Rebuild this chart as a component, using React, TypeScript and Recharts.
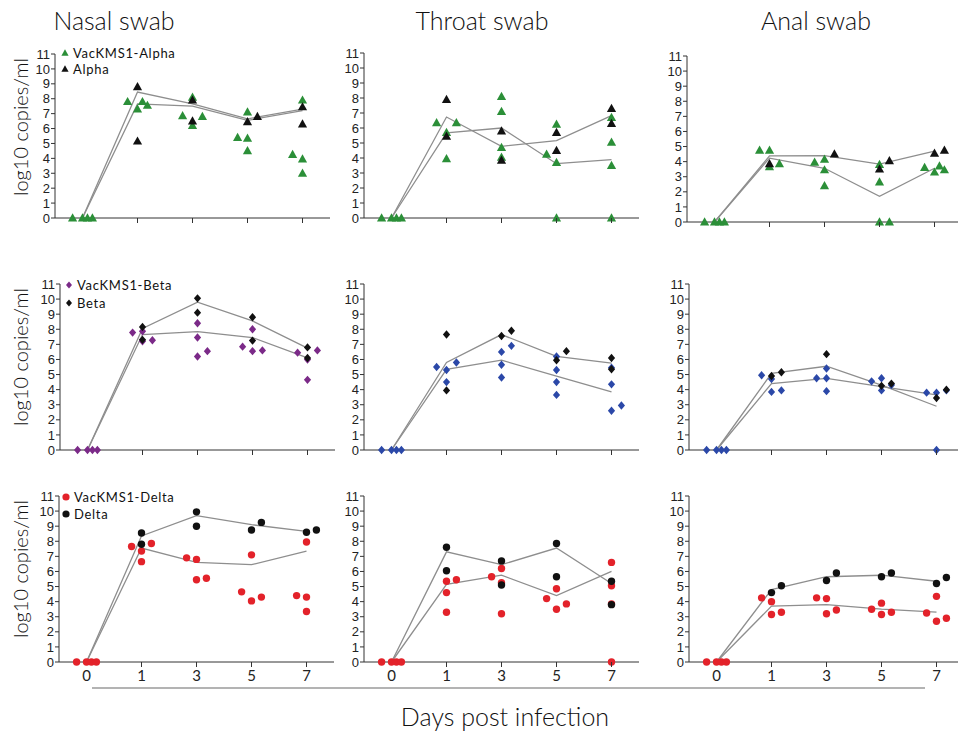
import React from 'react';
import { ScatterChart, Scatter, XAxis, YAxis } from 'recharts';

type Pt = [number, number]; // [log10 copies/ml, jitter slot]

const DAYS = [0, 1, 3, 5, 7];
const Y_TICKS = [0, 1, 2, 3, 4, 5, 6, 7, 8, 9, 10, 11];
const SWABS = ['Nasal swab', 'Throat swab', 'Anal swab'];
const VARIANTS = ['Alpha', 'Beta', 'Delta'];
const Y_LABEL = 'log10 copies/ml';
const X_LABEL = 'Days post infection';

const DAY0: Pt[] = [[0, -1], [0, 0], [0, 0.5], [0, 1]];

// ---------- Alpha ----------
const NASAL_ALPHA_VAC: Pt[][] = [DAY0,
  [[7.8, -1], [7.3, 0], [7.8, 0.5], [7.55, 1]],
  [[6.85, -1], [8.1, 0], [6.2, 0], [6.8, 1]],
  [[5.4, -1], [7.1, 0], [5.35, 0], [4.5, 0]],
  [[4.25, -1], [7.9, 0], [3.95, 0], [3.0, 0]]];
const NASAL_ALPHA_CTRL: Pt[][] = [[],
  [[8.8, 0], [5.15, 0]],
  [[7.9, 0], [6.5, 0]],
  [[6.45, 0], [6.8, 1]],
  [[7.45, 0], [6.3, 0]]];
const NASAL_ALPHA_MEAN_CTRL = [0, 8.45, 7.65, 6.65, 7.3];
const NASAL_ALPHA_MEAN_VAC = [0, 7.65, 7.5, 6.55, 7.2];

const THROAT_ALPHA_VAC: Pt[][] = [DAY0,
  [[6.35, -1], [5.7, 0], [3.95, 0], [6.35, 1]],
  [[8.1, 0], [7.1, 0], [4.7, 0], [4.05, 0]],
  [[4.25, -1], [6.25, 0], [3.7, 0], [0, 0]],
  [[6.7, 0], [5.05, 0], [3.5, 0], [0, 0]]];
const THROAT_ALPHA_CTRL: Pt[][] = [[],
  [[7.9, 0], [5.45, 0]],
  [[5.8, 0], [3.85, 0]],
  [[5.7, 0], [4.5, 0]],
  [[7.3, 0], [6.3, 0]]];
const THROAT_ALPHA_MEAN_CTRL = [0, 6.73, 4.78, 5.16, 6.82];
const THROAT_ALPHA_MEAN_VAC = [0, 5.67, 6.0, 3.62, 3.89];

const ANAL_ALPHA_VAC: Pt[][] = [DAY0,
  [[4.75, -1], [4.75, 0], [3.65, 0], [3.85, 1]],
  [[3.95, -1], [4.15, 0], [3.45, 0], [2.4, 0]],
  [[3.8, 0], [2.65, 0], [0, 0], [0, 1]],
  [[3.6, -1], [3.3, 0], [3.7, 0.5], [3.45, 1]]];
const ANAL_ALPHA_CTRL: Pt[][] = [[],
  [[3.85, 0]],
  [[4.5, 1]],
  [[3.5, 0], [4.05, 1]],
  [[4.55, 0], [4.75, 1]]];
const ANAL_ALPHA_MEAN_CTRL = [0, 4.38, 4.4, 3.83, 4.7];
const ANAL_ALPHA_MEAN_VAC = [0, 4.23, 3.56, 1.7, 3.56];

// ---------- Beta ----------
const NASAL_BETA_VAC: Pt[][] = [DAY0,
  [[7.78, -1], [7.87, 0], [7.2, 0], [7.27, 1]],
  [[8.4, 0], [7.45, 0], [6.2, 0], [6.55, 1]],
  [[6.85, -1], [8.0, 0], [6.55, 0], [6.6, 1]],
  [[6.45, -1], [6.0, 0], [4.65, 0], [6.6, 1]]];
const NASAL_BETA_CTRL: Pt[][] = [[],
  [[8.15, 0], [7.3, 0]],
  [[10.05, 0], [9.1, 0]],
  [[8.8, 0], [7.25, 0]],
  [[6.8, 0], [6.1, 0]]];
const NASAL_BETA_MEAN_CTRL = [0, 8.05, 9.8, 8.55, 6.75];
const NASAL_BETA_MEAN_VAC = [0, 7.65, 7.85, 7.45, 6.1];

const THROAT_BETA_VAC: Pt[][] = [DAY0,
  [[5.5, -1], [5.3, 0], [4.5, 0], [5.8, 1]],
  [[6.5, 0], [5.65, 0], [4.8, 0], [6.9, 1]],
  [[6.2, 0], [5.3, 0], [4.5, 0], [3.65, 0]],
  [[5.45, 0], [4.35, 0], [2.6, 0], [2.95, 1]]];
const THROAT_BETA_CTRL: Pt[][] = [[],
  [[7.65, 0], [3.95, 0]],
  [[7.55, 0], [7.9, 1]],
  [[5.95, 0], [6.55, 1]],
  [[6.1, 0], [5.35, 0]]];
const THROAT_BETA_MEAN_CTRL = [0, 5.8, 7.65, 6.2, 5.75];
const THROAT_BETA_MEAN_VAC = [0, 5.35, 5.95, 4.9, 3.85];

const ANAL_BETA_VAC: Pt[][] = [DAY0,
  [[4.95, -1], [4.7, 0], [3.85, 0], [3.95, 1]],
  [[4.75, -1], [5.4, 0], [4.75, 0], [3.9, 0]],
  [[4.55, -1], [4.75, 0], [3.95, 0], [4.3, 1]],
  [[3.8, -1], [3.8, 0], [0, 0], [3.95, 1]]];
const ANAL_BETA_CTRL: Pt[][] = [[],
  [[4.9, 0], [5.15, 1]],
  [[6.35, 0]],
  [[4.25, 0], [4.4, 1]],
  [[3.45, 0], [4.0, 1]]];
const ANAL_BETA_MEAN_CTRL = [0, 5.08, 5.55, 4.3, 2.9];
const ANAL_BETA_MEAN_VAC = [0, 4.4, 4.75, 4.2, 3.65];

// ---------- Delta ----------
const NASAL_DELTA_VAC: Pt[][] = [DAY0,
  [[7.65, -1], [7.35, 0], [6.65, 0], [7.85, 1]],
  [[6.9, -1], [6.8, 0], [5.45, 0], [5.55, 1]],
  [[4.65, -1], [7.1, 0], [4.05, 0], [4.3, 1]],
  [[4.4, -1], [7.95, 0], [4.3, 0], [3.35, 0]]];
const NASAL_DELTA_CTRL: Pt[][] = [[],
  [[8.55, 0], [7.8, 0]],
  [[9.95, 0], [9.0, 0]],
  [[8.75, 0], [9.25, 1]],
  [[8.6, 0], [8.75, 1]]];
const NASAL_DELTA_MEAN_CTRL = [0, 8.35, 9.7, 9.1, 8.65];
const NASAL_DELTA_MEAN_VAC = [0, 7.55, 6.6, 6.45, 7.35];

const THROAT_DELTA_VAC: Pt[][] = [DAY0,
  [[5.35, 0], [4.6, 0], [3.3, 0], [5.45, 1]],
  [[5.65, -1], [6.2, 0], [5.25, 0], [3.2, 0]],
  [[4.2, -1], [4.85, 0], [3.5, 0], [3.85, 1]],
  [[6.6, 0], [5.05, 0], [3.85, 0], [0, 0]]];
const THROAT_DELTA_CTRL: Pt[][] = [[],
  [[7.6, 0], [6.05, 0]],
  [[6.7, 0], [5.1, 0]],
  [[7.85, 0], [5.65, 0]],
  [[5.35, 0], [3.8, 0]]];
const THROAT_DELTA_MEAN_CTRL = [0, 7.3, 6.45, 7.55, 5.2];
const THROAT_DELTA_MEAN_VAC = [0, 5.15, 5.75, 4.4, 6.0];

const ANAL_DELTA_VAC: Pt[][] = [DAY0,
  [[4.25, -1], [4.0, 0], [3.15, 0], [3.3, 1]],
  [[4.25, -1], [4.2, 0], [3.2, 0], [3.45, 1]],
  [[3.5, -1], [3.9, 0], [3.15, 0], [3.3, 1]],
  [[3.25, -1], [4.35, 0], [2.7, 0], [2.9, 1]]];
const ANAL_DELTA_CTRL: Pt[][] = [[],
  [[4.6, 0], [5.05, 1]],
  [[5.4, 0], [5.9, 1]],
  [[5.65, 0], [5.9, 1]],
  [[5.2, 0], [5.6, 1]]];
const ANAL_DELTA_MEAN_CTRL = [0, 4.8, 5.65, 5.75, 5.35];
const ANAL_DELTA_MEAN_VAC = [0, 3.7, 3.8, 3.5, 3.3];

// ---------- layout / style ----------
const FONT = 'Lato, "Open Sans", "DejaVu Sans", sans-serif';
const TICK_FONT = '"Liberation Sans", Arial, sans-serif';
const JITTER = 0.18;
const GREEN = '#2b8f38';
const PURPLE = '#7b2a88';
const BLUE = '#2b48a8';
const RED = '#e3222a';
const VAC_COLORS = [
  [GREEN, GREEN, GREEN],
  [PURPLE, BLUE, BLUE],
  [RED, RED, RED],
];
const CTRL_COLOR = '#111111';
const LINE_COLOR = '#8e8e8e';
const AXIS_COLOR = '#333333';

const toPoints = (days: Pt[][]) =>
  days.flatMap((pts, i) => pts.map(([v, s]) => ({ x: i + s * JITTER, y: v })));
const toLine = (vals: number[]) => vals.map((v, i) => ({ x: i, y: v }));

const makeShape = (kind: string, color: string) => (props: any) => {
  const { cx, cy } = props;
  if (cx == null || cy == null) return <g />;
  if (kind === 'triangle') {
    return <polygon points={`${cx},${cy - 4.8} ${cx - 4.6},${cy + 3.4} ${cx + 4.6},${cy + 3.4}`} fill={color} />;
  }
  if (kind === 'diamond') {
    return <polygon points={`${cx},${cy - 4.2} ${cx + 3.6},${cy} ${cx},${cy + 4.2} ${cx - 3.6},${cy}`} fill={color} />;
  }
  return <circle cx={cx} cy={cy} r={3.7} fill={color} />;
};
const Empty = () => <g />;

const SHAPES = ['triangle', 'diamond', 'circle'];

// row 1 Alpha, row 2 Beta, row 3 Delta; columns nasal, throat, anal
const PANELS = [
  [
    { vac: NASAL_ALPHA_VAC, ctrl: NASAL_ALPHA_CTRL, mc: NASAL_ALPHA_MEAN_CTRL, mv: NASAL_ALPHA_MEAN_VAC },
    { vac: THROAT_ALPHA_VAC, ctrl: THROAT_ALPHA_CTRL, mc: THROAT_ALPHA_MEAN_CTRL, mv: THROAT_ALPHA_MEAN_VAC },
    { vac: ANAL_ALPHA_VAC, ctrl: ANAL_ALPHA_CTRL, mc: ANAL_ALPHA_MEAN_CTRL, mv: ANAL_ALPHA_MEAN_VAC },
  ],
  [
    { vac: NASAL_BETA_VAC, ctrl: NASAL_BETA_CTRL, mc: NASAL_BETA_MEAN_CTRL, mv: NASAL_BETA_MEAN_VAC },
    { vac: THROAT_BETA_VAC, ctrl: THROAT_BETA_CTRL, mc: THROAT_BETA_MEAN_CTRL, mv: THROAT_BETA_MEAN_VAC },
    { vac: ANAL_BETA_VAC, ctrl: ANAL_BETA_CTRL, mc: ANAL_BETA_MEAN_CTRL, mv: ANAL_BETA_MEAN_VAC },
  ],
  [
    { vac: NASAL_DELTA_VAC, ctrl: NASAL_DELTA_CTRL, mc: NASAL_DELTA_MEAN_CTRL, mv: NASAL_DELTA_MEAN_VAC },
    { vac: THROAT_DELTA_VAC, ctrl: THROAT_DELTA_CTRL, mc: THROAT_DELTA_MEAN_CTRL, mv: THROAT_DELTA_MEAN_VAC },
    { vac: ANAL_DELTA_VAC, ctrl: ANAL_DELTA_CTRL, mc: ANAL_DELTA_MEAN_CTRL, mv: ANAL_DELTA_MEAN_VAC },
  ],
];

// plot-area geometry (left of y axis, top of y axis, height)
const GEOM = [
  [{ l: 55, t: 54, h: 164 }, { l: 364, t: 53, h: 165 }, { l: 687, t: 56, h: 166 }],
  [{ l: 60, t: 284, h: 166 }, { l: 364, t: 284, h: 166 }, { l: 689, t: 284, h: 166 }],
  [{ l: 59, t: 496, h: 166 }, { l: 364, t: 496, h: 166 }, { l: 689, t: 496, h: 166 }],
];
const PLOT_W = 275;
const MT = 8;
const YW = 40;
const XH = 30;

const XTick = (props: any) => {
  const { x, y, payload, showLabel } = props;
  return (
    <g>
      {payload.value > 0 && <line x1={x} x2={x} y1={y} y2={y + 5} stroke={AXIS_COLOR} strokeWidth={1} />}
      {showLabel && (
        <text x={x} y={y + 19} textAnchor="middle" fontSize={15} fill="#222" fontFamily={FONT}>
          {DAYS[payload.value]}
        </text>
      )}
    </g>
  );
};

function Panel({ row, col }: { row: number; col: number }) {
  const g = GEOM[row][col];
  const p = PANELS[row][col];
  const color = VAC_COLORS[row][col];
  const kind = SHAPES[row];
  const showLabel = row === 2;
  return (
    <div style={{ position: 'absolute', left: g.l - YW, top: g.t - MT }}>
      <ScatterChart width={YW + PLOT_W + 10} height={MT + g.h + XH} margin={{ top: MT, right: 10, bottom: 0, left: 0 }}>
        <XAxis
          type="number"
          dataKey="x"
          domain={[-0.5, 4.5]}
          ticks={[0, 1, 2, 3, 4]}
          interval={0}
          height={XH}
          tickLine={false}
          tickSize={0}
          tickMargin={0}
          axisLine={{ stroke: AXIS_COLOR, strokeWidth: 1 }}
          tick={(tp: any) => <XTick {...tp} showLabel={showLabel} />}
        />
        <YAxis
          type="number"
          dataKey="y"
          domain={[0, 11]}
          ticks={Y_TICKS}
          interval={0}
          width={YW}
          tickSize={4}
          tickMargin={1}
          axisLine={{ stroke: AXIS_COLOR, strokeWidth: 1 }}
          tickLine={{ stroke: AXIS_COLOR }}
          tick={{ fontSize: 13, fill: '#222', fontFamily: TICK_FONT }}
        />
        <Scatter data={toLine(p.mc)} line={{ stroke: LINE_COLOR, strokeWidth: 1.3 }} shape={Empty} isAnimationActive={false} />
        <Scatter data={toLine(p.mv)} line={{ stroke: LINE_COLOR, strokeWidth: 1.3 }} shape={Empty} isAnimationActive={false} />
        <Scatter data={toPoints(p.vac)} shape={makeShape(kind, color)} isAnimationActive={false} />
        <Scatter data={toPoints(p.ctrl)} shape={makeShape(kind, CTRL_COLOR)} isAnimationActive={false} />
      </ScatterChart>
    </div>
  );
}

const LEGEND_POS = [
  { mx: 65, tx: 73, y1: 53, y2: 69 },
  { mx: 69, tx: 77, y1: 285, y2: 303 },
  { mx: 66, tx: 74, y1: 497, y2: 514 },
];

const legendMarker = (kind: string, cx: number, cy: number, color: string, key: string) => {
  if (kind === 'triangle')
    return <polygon key={key} points={`${cx},${cy - 3.8} ${cx - 3.6},${cy + 2.8} ${cx + 3.6},${cy + 2.8}`} fill={color} />;
  if (kind === 'diamond')
    return <polygon key={key} points={`${cx},${cy - 3.6} ${cx + 3},${cy} ${cx},${cy + 3.6} ${cx - 3},${cy}`} fill={color} />;
  return <circle key={key} cx={cx} cy={cy} r={3.6} fill={color} />;
};

const TITLE_X = [114, 482, 816];
const YLABEL_Y = [127, 357, 569];

export default function App() {
  return (
    <div style={{ position: 'absolute', left: 0, top: 0, width: 958, height: 733, background: '#fff', overflow: 'hidden' }}>
      <svg width={958} height={733} style={{ position: 'absolute', left: 0, top: 0 }}>
        {SWABS.map((s, i) => (
          <text key={s} x={TITLE_X[i]} y={30} textAnchor="middle" fontSize={25} fontWeight={300} fill="#111" fontFamily={FONT}>
            {s}
          </text>
        ))}
        {YLABEL_Y.map((cy, i) => (
          <text
            key={i}
            x={0}
            y={0}
            transform={`translate(20, ${cy}) rotate(-90)`}
            textAnchor="middle"
            dominantBaseline="central"
            fontSize={20}
            fontWeight={300}
            fill="#111"
            fontFamily={FONT}
          >
            {Y_LABEL}
          </text>
        ))}
        {VARIANTS.map((v, i) => {
          const lp = LEGEND_POS[i];
          return (
            <g key={v}>
              {legendMarker(SHAPES[i], lp.mx, lp.y1, VAC_COLORS[i][0], 'a')}
              {legendMarker(SHAPES[i], lp.mx, lp.y2, CTRL_COLOR, 'b')}
              <text x={lp.tx} y={lp.y1 + 4.5} fontSize={13} letterSpacing={0.7} fill="#111" fontFamily={FONT}>{`VacKMS1-${v}`}</text>
              <text x={lp.tx} y={lp.y2 + 4.5} fontSize={13} letterSpacing={0.7} fill="#111" fontFamily={FONT}>{v}</text>
            </g>
          );
        })}
        <line x1={92} x2={925} y1={688} y2={688} stroke="#9a9a9a" strokeWidth={1.5} />
        <text x={505} y={726} textAnchor="middle" fontSize={25} fontWeight={300} fill="#111" fontFamily={FONT}>
          {X_LABEL}
        </text>
      </svg>
      {[0, 1, 2].map((r) => [0, 1, 2].map((c) => <Panel key={`${r}-${c}`} row={r} col={c} />))}
    </div>
  );
}
